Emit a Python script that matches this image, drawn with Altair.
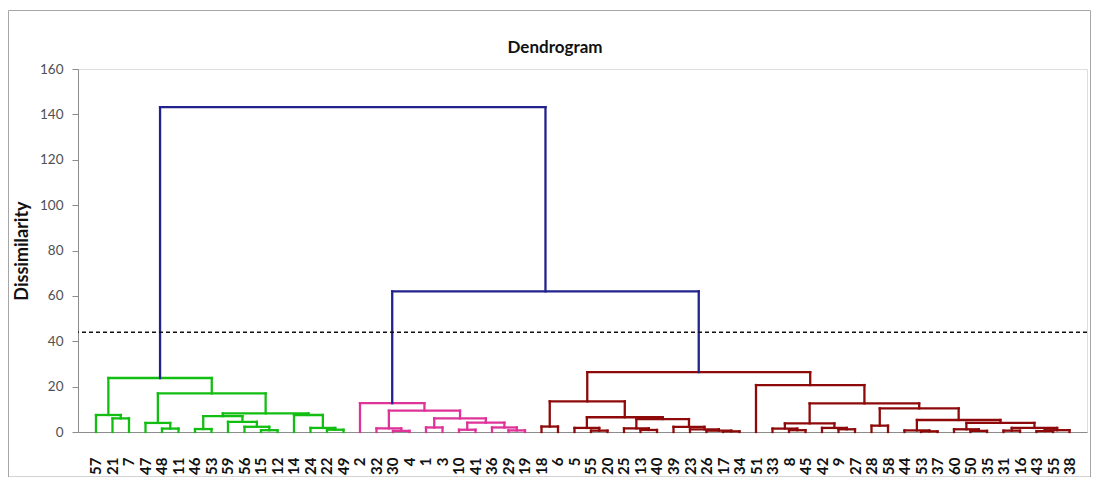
import altair as alt
import pandas as pd

# ---- data ----
leaf_labels = ["57", "21", "7", "47", "48", "11", "46", "53", "59", "56", "15", "12", "14", "24", "22", "49",
               "2", "32", "30", "4", "1", "3", "10", "41", "36", "29", "19",
               "18", "6", "5", "55", "20", "25", "13", "40", "39", "23", "26", "17", "34",
               "51", "33", "8", "45", "42", "9", "27", "28", "58", "44", "53", "37", "60", "50", "35",
               "31", "16", "43", "55", "38"]

# linkage rows: child a, child b (leaf index < 60, else node 60+k), merge height, group
merge_a = [1, 0, 4, 3, 6, 10, 9, 8, 64, 14, 13, 12, 68, 63, 61,
           18, 17, 20, 22, 25, 24, 78, 77, 76, 16,
           27, 30, 29, 33, 32, 38, 37, 36, 35, 89, 87, 85,
           42, 41, 45, 44, 98, 47, 50, 49, 53, 52, 55, 57, 108, 107, 106, 104, 102, 101, 40, 96,
           84, 74]
merge_b = [2, 60, 5, 62, 7, 11, 65, 66, 67, 15, 69, 70, 71, 72, 73,
           19, 75, 21, 23, 26, 79, 80, 81, 82, 83,
           28, 31, 86, 34, 88, 39, 90, 91, 92, 93, 94, 95,
           43, 97, 46, 99, 100, 48, 51, 103, 54, 105, 56, 58, 59, 109, 110, 111, 112, 113, 114, 115,
           116, 117]
merge_h = [6.0, 7.5, 1.5, 4.0, 1.3, 0.8, 2.3, 4.5, 7.0, 1.0, 1.8, 7.5, 8.2, 17.0, 23.8,
           0.5, 1.6, 2.0, 1.0, 0.7, 2.0, 4.1, 6.0, 9.4, 12.7,
           2.4, 0.6, 1.8, 0.9, 1.6, 0.3, 0.6, 1.2, 2.3, 5.7, 6.5, 13.5,
           0.8, 1.5, 1.2, 1.8, 3.8, 2.8, 0.3, 0.7, 0.5, 1.2, 0.6, 0.4, 0.8, 1.8, 4.0, 5.3, 10.4, 12.6, 20.7, 26.4,
           62.0, 143.2]
merge_group = (["C1"] * 15 + ["C2"] * 10 + ["C3"] * 32 + ["top"] * 2)

group_names = ["C1", "C2", "C3", "top"]
group_colors = ["#12BE12", "#DE3399", "#8E0A0A", "#22228C"]

chart_title = "Dendrogram"
cut_height = [44]
y_ticks = [0, 20, 40, 60, 80, 100, 120, 140, 160]

# ---- build link segments from the linkage ----
n = len(leaf_labels)
pos = list(range(n))
hgt = [0.0] * n
rows = []
for a, b, h, g in zip(merge_a, merge_b, merge_h, merge_group):
    xa, xb = pos[a], pos[b]
    ha, hb = hgt[a], hgt[b]
    rows.append(dict(x=xa, x2=xa, y=ha, y2=h, grp=g))
    rows.append(dict(x=xb, x2=xb, y=hb, y2=h, grp=g))
    rows.append(dict(x=xa, x2=xb, y=h, y2=h, grp=g))
    pos.append((xa + xb) / 2)
    hgt.append(h)
segs = pd.DataFrame(rows)

label_expr = "[" + ",".join("'" + s + "'" for s in leaf_labels) + "][datum.value]"
FONT = "Lato"

x_scale = alt.Scale(domain=[-1.09, 60.06], nice=False, zero=False)
y_scale = alt.Scale(domain=[0, 160], nice=False)

links = alt.Chart(segs).mark_rule(strokeWidth=2.3, strokeCap="square").encode(
    x=alt.X("x:Q", scale=x_scale,
            axis=alt.Axis(values=list(range(n)), labelExpr=label_expr, title=None, grid=False,
                          ticks=False, domainColor="#8C8C8C", labelAngle=270, labelAlign="right",
                          labelBaseline="middle", labelFontWeight="bold", labelFontSize=15,
                          labelColor="#111111", labelPadding=25, labelFont=FONT,
                          labelOverlap=False, labelBound=False, labelFlush=False)),
    x2="x2:Q",
    y=alt.Y("y:Q", scale=y_scale,
            axis=alt.Axis(values=y_ticks, title="Dissimilarity", grid=False, tickSize=6,
                          tickColor="#8C8C8C", domainColor="#8C8C8C", labelColor="#505050",
                          labelFontSize=13.5, labelFont=FONT, labelPadding=9,
                          titleFont=FONT, titleFontSize=18, titleFontWeight="bold",
                          titleColor="#111111", titlePadding=8)),
    y2="y2:Q",
    color=alt.Color("grp:N", scale=alt.Scale(domain=group_names, range=group_colors), legend=None),
)

cut = alt.Chart(pd.DataFrame({"h": cut_height})).mark_rule(
    strokeDash=[4, 3], color="#111111", strokeWidth=1.5
).encode(y=alt.Y("h:Q", scale=y_scale))

frame = alt.Chart(pd.DataFrame({"a": [0]})).mark_rect(
    fillOpacity=0, stroke="#A6A6A6", strokeWidth=1
).encode(x=alt.value(-69.5), x2=alt.value(1012.5), y=alt.value(-58.5), y2=alt.value(408))

title_text = alt.Chart(pd.DataFrame({"t": [chart_title]})).mark_text(
    font=FONT, fontSize=17, fontWeight="bold", color="#111111", align="center", baseline="middle"
).encode(text="t:N", x=alt.value(477), y=alt.value(-21))

chart = alt.layer(frame, links, cut, title_text).properties(
    width=1009, height=363,
    autosize=alt.AutoSizeParams(type="none"),
    padding={"left": 70, "top": 61, "right": 4, "bottom": 45},
).configure_view(stroke="#C8C8C8").configure(background="white")

chart.save("out.html", embed_options={"renderer": "svg", "actions": False})
